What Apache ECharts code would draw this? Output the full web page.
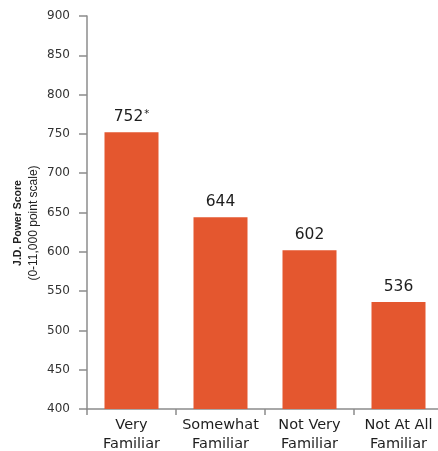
<!DOCTYPE html>
<html>
<head>
<meta charset="utf-8">
<script src="https://cdn.jsdelivr.net/npm/echarts@6/dist/echarts.min.js"></script>
<style>
html,body{margin:0;padding:0;background:#fff;}
#c{width:438px;height:451px;}
</style>
</head>
<body>
<div id="c"></div>
<script>
const categories = ['Very\nFamiliar', 'Somewhat\nFamiliar', 'Not Very\nFamiliar', 'Not At All\nFamiliar'];
const scores = [752, 644, 602, 536];
const notes = ['*', '', '', ''];
const yMin = 400, yMax = 900, yStep = 50;
const axisName = ['J.D. Power Score', '(0-11,000 point scale)'];

const chart = echarts.init(document.getElementById('c'));
const FONT = 'DejaVu Sans';
chart.setOption({
  animation: false,
  textStyle: { fontFamily: FONT },
  grid: { left: 87, top: 16, bottom: 42, width: 356, outerBoundsMode: 'none', containLabel: false },
  graphic: [{
    type: 'text',
    x: 26, y: 223,
    rotation: Math.PI / 2,
    style: {
      text: '{b|' + axisName[0] + '}\n{n|' + axisName[1] + '}',
      align: 'center',
      verticalAlign: 'middle',
      rich: {
        b: { fontFamily: 'Liberation Sans', fontWeight: 'bold', fontSize: 10.5, fill: '#222', lineHeight: 16, align: 'center' },
        n: { fontFamily: 'Liberation Sans', fontSize: 12, fill: '#222', lineHeight: 16, align: 'center' }
      }
    }
  }],
  xAxis: {
    type: 'category',
    data: categories,
    boundaryGap: true,
    axisLine: { lineStyle: { color: '#8c8c8c', width: 1.5 } },
    axisTick: { show: true, length: 6, lineStyle: { color: '#8c8c8c', width: 1.5 } },
    axisLabel: { color: '#1e1e1e', fontSize: 14.5, lineHeight: 19, margin: 7, interval: 0, fontFamily: FONT }
  },
  yAxis: {
    type: 'value',
    min: yMin, max: yMax, interval: yStep,
    splitLine: { show: false },
    axisLine: { show: true, lineStyle: { color: '#8c8c8c', width: 1.5 } },
    axisTick: { show: true, length: 8, lineStyle: { color: '#8c8c8c', width: 1.5 } },
    axisLabel: { color: '#333', fontSize: 12, margin: 17, padding: [0, 0, 6, 0], fontFamily: FONT }
  },
  series: [{
    type: 'bar',
    data: scores,
    barWidth: 54,
    itemStyle: { color: '#e4572f' },
    label: {
      show: true,
      position: 'top',
      distance: 7,
      formatter: p => '{v|' + p.value + '}' + (notes[p.dataIndex] ? '{s|' + notes[p.dataIndex] + '}' : ''),
      rich: {
        v: { fontSize: 15.5, color: '#1e1e1e', fontFamily: FONT },
        s: { fontSize: 10, color: '#1e1e1e', fontFamily: FONT, verticalAlign: 'top', padding: [0, 0, 6, 1] }
      }
    }
  }]
});
</script>
</body>
</html>
